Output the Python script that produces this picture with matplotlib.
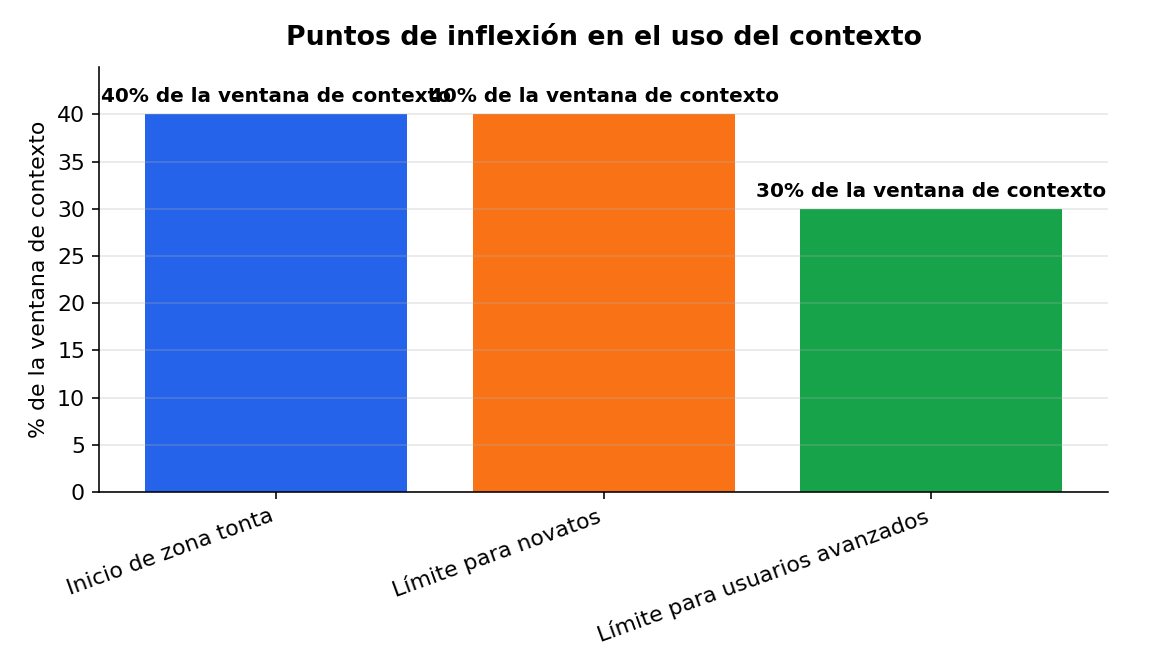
import matplotlib
matplotlib.use("Agg")
import matplotlib.pyplot as plt

categorias = ["Inicio de zona tonta", "Límite para novatos", "Límite para usuarios avanzados"]
valores = [40, 40, 30]
etiquetas = ["40% de la ventana de contexto", "40% de la ventana de contexto", "30% de la ventana de contexto"]
colores = ["#2563eb", "#f97316", "#16a34a"]

fig, ax = plt.subplots(figsize=(8, 4.6667), dpi=144)
fig.subplots_adjust(left=0.086, right=0.962, top=0.900, bottom=0.268)

x = range(len(categorias))
barras = ax.bar(x, valores, color=colores, width=0.8)

for b, txt in zip(barras, etiquetas):
    ax.annotate(txt, (b.get_x() + b.get_width() / 2, b.get_height()),
                xytext=(0, 4), textcoords="offset points",
                ha="center", va="bottom", fontsize=10, fontweight="bold")

ax.set_ylim(0, 45)
ax.set_yticks(range(0, 41, 5))
ax.set_xticks(list(x))
ax.set_xticklabels(categorias, rotation=20, ha="right", fontsize=11)
ax.tick_params(axis="y", labelsize=11)
ax.set_ylabel("% de la ventana de contexto", fontsize=11)
ax.set_title("Puntos de inflexión en el uso del contexto", fontsize=13.4, fontweight="bold", pad=11)
ax.grid(axis="y", alpha=0.3)
ax.spines["top"].set_visible(False)
ax.spines["right"].set_visible(False)

fig.savefig("out.png", dpi=144)
